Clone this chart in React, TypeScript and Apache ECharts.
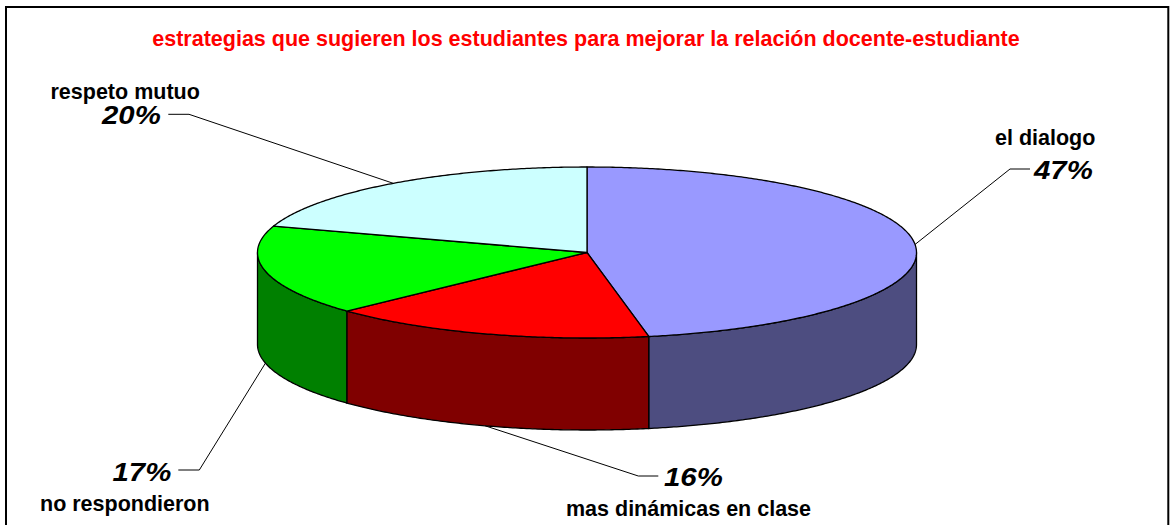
import React, { useEffect, useRef } from "react";
import * as echarts from "echarts";

const titleText =
  "estrategias que sugieren los estudiantes para mejorar la relación docente-estudiante";
const categories = ["el dialogo", "mas dinámicas en clase", "no respondieron", "respeto mutuo"];
const values = [47, 16, 17, 20];

const topColors = ["#9999FF", "#FF0000", "#00FF00", "#CCFFFF"];
const sideColors = ["#4D4D80", "#800000", "#008000", "#668080"];

const FONT = '"Liberation Sans", Arial, Helvetica, sans-serif';
const NAME_SIZE = 21.5;
const PCT_SIZE = 26;
const PCT_STRETCH = 1.13;
const TITLE_SIZE = 21.5;
const MID = 0.3465;

const PIE = { cx: 587, cy: 252.5, rx: 329.5, ry: 85.5, depth: 92 };

// label layout: elbow + end of leader line, text left edges and baselines
const labelLayout = [
  { elbow: [1010, 169], end: [1030, 169], nameX: 995, nameBase: 145.7, pctX: 1034, pctBase: 179 },
  { elbow: [638.3, 476], end: [658.3, 476], nameX: 566, nameBase: 516.7, pctX: 664, pctBase: 486 },
  { elbow: [199.3, 470], end: [178.3, 470], nameX: 40, nameBase: 511.7, pctX: 112.5, pctBase: 481 },
  { elbow: [189, 114.3], end: [168.3, 114.3], nameX: 50.5, nameBase: 99, pctX: 102, pctBase: 124.3 },
];

const total = values.reduce((s, v) => s + v, 0);
const starts: number[] = [];
{
  let acc = 0;
  for (const v of values) {
    starts.push((acc / total) * 360);
    acc += v;
  }
}

function pt(theta: number, dy = 0): number[] {
  const r = (theta * Math.PI) / 180;
  return [PIE.cx + PIE.rx * Math.sin(r), PIE.cy - PIE.ry * Math.cos(r) + dy];
}
function arc(a: number, b: number, dy: number): number[][] {
  const pts: number[][] = [];
  const n = Math.max(2, Math.ceil(Math.abs(b - a) * 2));
  for (let i = 0; i <= n; i++) pts.push(pt(a + ((b - a) * i) / n, dy));
  return pts;
}

export default function App() {
  const ref = useRef<HTMLDivElement>(null);
  useEffect(() => {
    if (!ref.current) return;
    const chart = echarts.init(ref.current, null, { renderer: "svg" });
    const option: any = {
      animation: false,
      backgroundColor: "#ffffff",
      graphic: [
        {
          type: "rect",
          shape: { x: 6, y: 7, width: 1162.3, height: 540 },
          style: { fill: "none", stroke: "#000", lineWidth: 2 },
          silent: true,
        },
        {
          type: "text",
          x: 586,
          y: 46 - MID * TITLE_SIZE,
          style: {
            text: titleText,
            x: 0,
            y: 0,
            fill: "#FF0000",
            font: `bold ${TITLE_SIZE}px ${FONT}`,
            align: "center",
            verticalAlign: "middle",
            textAlign: "center",
            textVerticalAlign: "middle",
          },
          silent: true,
        },
      ],
      series: [
        {
          type: "custom",
          coordinateSystem: "none",
          silent: true,
          data: values.map((v, i) => ({ value: v, name: categories[i] })),
          renderItem: (params: any, api: any) => {
            const i = params.dataIndex;
            const v = api.value(0);
            const a = starts[i];
            const b = a + (v / total) * 360;
            const children: any[] = [];
            const sa = Math.max(a, 90);
            const sb = Math.min(b, 270);
            if (sb > sa) {
              const top = arc(sa, sb, 0);
              const bot = arc(sb, sa, PIE.depth);
              children.push({
                type: "polygon",
                shape: { points: top.concat(bot) },
                style: { fill: sideColors[i], stroke: "#000", lineWidth: 1.3, lineJoin: "round" },
              });
            }
            children.push({
              type: "polygon",
              shape: { points: [[PIE.cx, PIE.cy]].concat(arc(a, b, 0)) },
              style: { fill: topColors[i], stroke: "#000", lineWidth: 1.3, lineJoin: "round" },
            });
            const m = (a + b) / 2;
            const anchor = m > 90 && m < 270 ? pt(m, PIE.depth) : pt(m, 0);
            const L = labelLayout[i];
            children.push({
              type: "polyline",
              shape: { points: [anchor, L.elbow, L.end] },
              style: { stroke: "#000", lineWidth: 1, fill: null },
            });
            children.push({
              type: "text",
              x: L.nameX,
              y: L.nameBase - MID * NAME_SIZE,
              style: {
                text: categories[i],
                x: 0,
                y: 0,
                fill: "#000",
                font: `bold ${NAME_SIZE}px ${FONT}`,
                align: "left",
                verticalAlign: "middle",
                textAlign: "left",
                textVerticalAlign: "middle",
              },
            });
            children.push({
              type: "text",
              x: L.pctX,
              y: L.pctBase - MID * PCT_SIZE,
              scaleX: PCT_STRETCH,
              style: {
                text: Math.round((v / total) * 100) + "%",
                x: 0,
                y: 0,
                fill: "#000",
                font: `italic bold ${PCT_SIZE}px ${FONT}`,
                align: "left",
                verticalAlign: "middle",
                textAlign: "left",
                textVerticalAlign: "middle",
              },
            });
            return { type: "group", children };
          },
        },
      ],
    };
    chart.setOption(option);
    return () => chart.dispose();
  }, []);
  return (
    <div
      ref={ref}
      style={{ position: "absolute", left: 0, top: 0, width: 1171, height: 525, background: "#fff" }}
    />
  );
}
